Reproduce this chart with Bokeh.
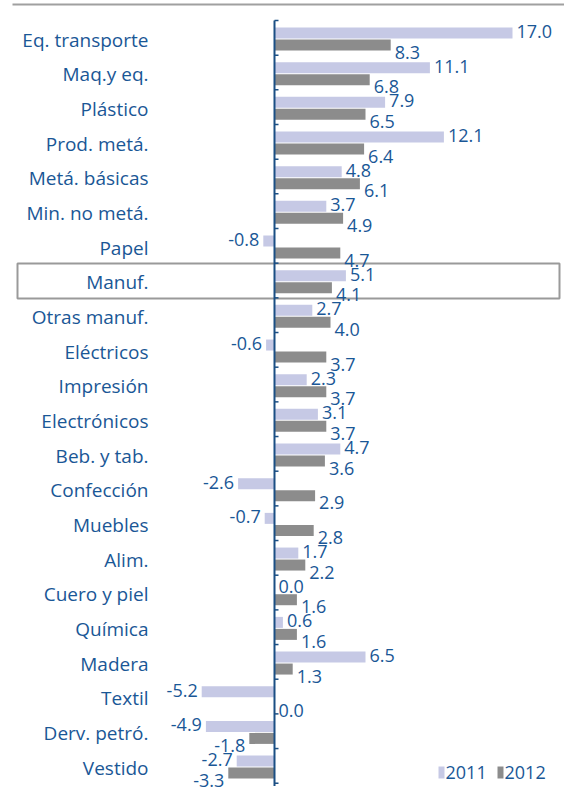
from bokeh.plotting import figure
from bokeh.models import Range1d, ColumnDataSource
from bokeh.core.properties import value
from bokeh.embed import file_html
from bokeh.resources import INLINE

categories = ["Eq. transporte", "Maq.y eq.", "Plástico", "Prod. metá.", "Metá. básicas",
              "Min. no metá.", "Papel", "Manuf.", "Otras manuf.", "Eléctricos", "Impresión",
              "Electrónicos", "Beb. y tab.", "Confección", "Muebles", "Alim.", "Cuero y piel",
              "Química", "Madera", "Textil", "Derv. petró.", "Vestido"]
v2011 = [17.0, 11.1, 7.9, 12.1, 4.8, 3.7, -0.8, 5.1, 2.7, -0.6, 2.3, 3.1, 4.7, -2.6, -0.7,
         1.7, 0.0, 0.6, 6.5, -5.2, -4.9, -2.7]
v2012 = [8.3, 6.8, 6.5, 6.4, 6.1, 4.9, 4.7, 4.1, 4.0, 3.7, 3.7, 3.7, 3.6, 2.9, 2.8, 2.2,
         1.6, 1.6, 1.3, 0.0, -1.8, -3.3]
series = ["2011", "2012"]
highlight = "Manuf."

W, H = 564, 794
ZERO = 274.0      # canvas px of x=0
XS = 14.0         # px per unit
PITCH = 34.67     # px per row
ROW0 = 38.5       # canvas px of row 0 centre

def px(cx):
    return (cx - ZERO) / XS

def py(cy):
    return (cy - ROW0) / PITCH

BLUE = "#1a5796"
C2011 = "#c6c9e5"
C2012 = "#8c8c8c"
FONT = value("Open Sans")

p = figure(width=W, height=H, output_backend="svg", toolbar_location=None,
           x_range=Range1d(px(0), px(W)), y_range=Range1d(py(H), py(0)),
           min_border=0)
p.xaxis.visible = False
p.yaxis.visible = False
p.xgrid.visible = False
p.ygrid.visible = False
p.outline_line_color = None
p.background_fill_color = "white"

n = len(categories)
idx = list(range(n))
dy = 6.0 / PITCH
bh = 11.0 / PITCH

src = ColumnDataSource(dict(
    cat=categories,
    y=idx,
    y1=[i - dy for i in idx],
    y2=[i + dy for i in idx],
    v1=v2011,
    v2=v2012,
    ly=[i + 0.5 / PITCH for i in idx],
    t1=[f"{v:.1f}" for v in v2011],
    t2=[f"{v:.1f}" for v in v2012],
    t1y=[i - dy - 1.5 / PITCH for i in idx],
    t2y=[i + dy + 7.0 / PITCH for i in idx],
))

# top rule
p.segment(x0=[px(12)], x1=[px(W)], y0=[py(4)], y1=[py(4)], line_color="#a0a0a0", line_width=2)

# highlight box
hi = categories.index(highlight)
p.quad(left=[px(17)], right=[px(559)], top=[hi - 0.525], bottom=[hi + 0.485],
       fill_color=None, line_color="#9a9a9a", line_width=2)

# bars
p.hbar(y="y1", right="v1", left=0, height=bh, source=src, fill_color=C2011, line_color=None)
p.hbar(y="y2", right="v2", left=0, height=bh, source=src, fill_color=C2012, line_color=None)

# axis line and ticks
p.segment(x0=[0], x1=[0], y0=[-0.534], y1=[n - 0.534 + 0.08], line_color="#1b4f84", line_width=2)
ticks = [k - 0.534 for k in range(n + 1)]
p.segment(x0=[0] * len(ticks), x1=[4.0 / XS] * len(ticks), y0=ticks, y1=ticks,
          line_color="#1b4f84", line_width=1.5)

# category labels
p.text(x=px(148), y="ly", text="cat", source=src, text_align="right", text_baseline="middle",
       text_color=BLUE, text_font=FONT, text_font_size="19px")

# value labels
def add_labels(vals, ycol, tcol):
    pos = [i for i, v in enumerate(vals) if v >= 0]
    neg = [i for i, v in enumerate(vals) if v < 0]
    d = src.data
    for sel, align, off in ((pos, "left", 4), (neg, "right", -4)):
        if not sel:
            continue
        p.text(x=[vals[i] for i in sel], y=[d[ycol][i] for i in sel], text=[d[tcol][i] for i in sel],
               x_offset=off, text_align=align, text_baseline="middle", text_color=BLUE,
               text_font=FONT, text_font_size="18px")

add_labels(v2011, "t1y", "t1")
add_labels(v2012, "t2y", "t2")

# legend
ly = py(772)
for (lx, col, name) in ((438, C2011, series[0]), (497, C2012, series[1])):
    p.quad(left=[px(lx)], right=[px(lx + 6)], top=[py(766)], bottom=[py(778)],
           fill_color=col, line_color=None)
    p.text(x=[px(lx + 7)], y=[ly], text=[name], text_align="left", text_baseline="middle",
           text_color=BLUE, text_font=FONT, text_font_size="18px")

open("out.html", "w").write(file_html(p, INLINE))
